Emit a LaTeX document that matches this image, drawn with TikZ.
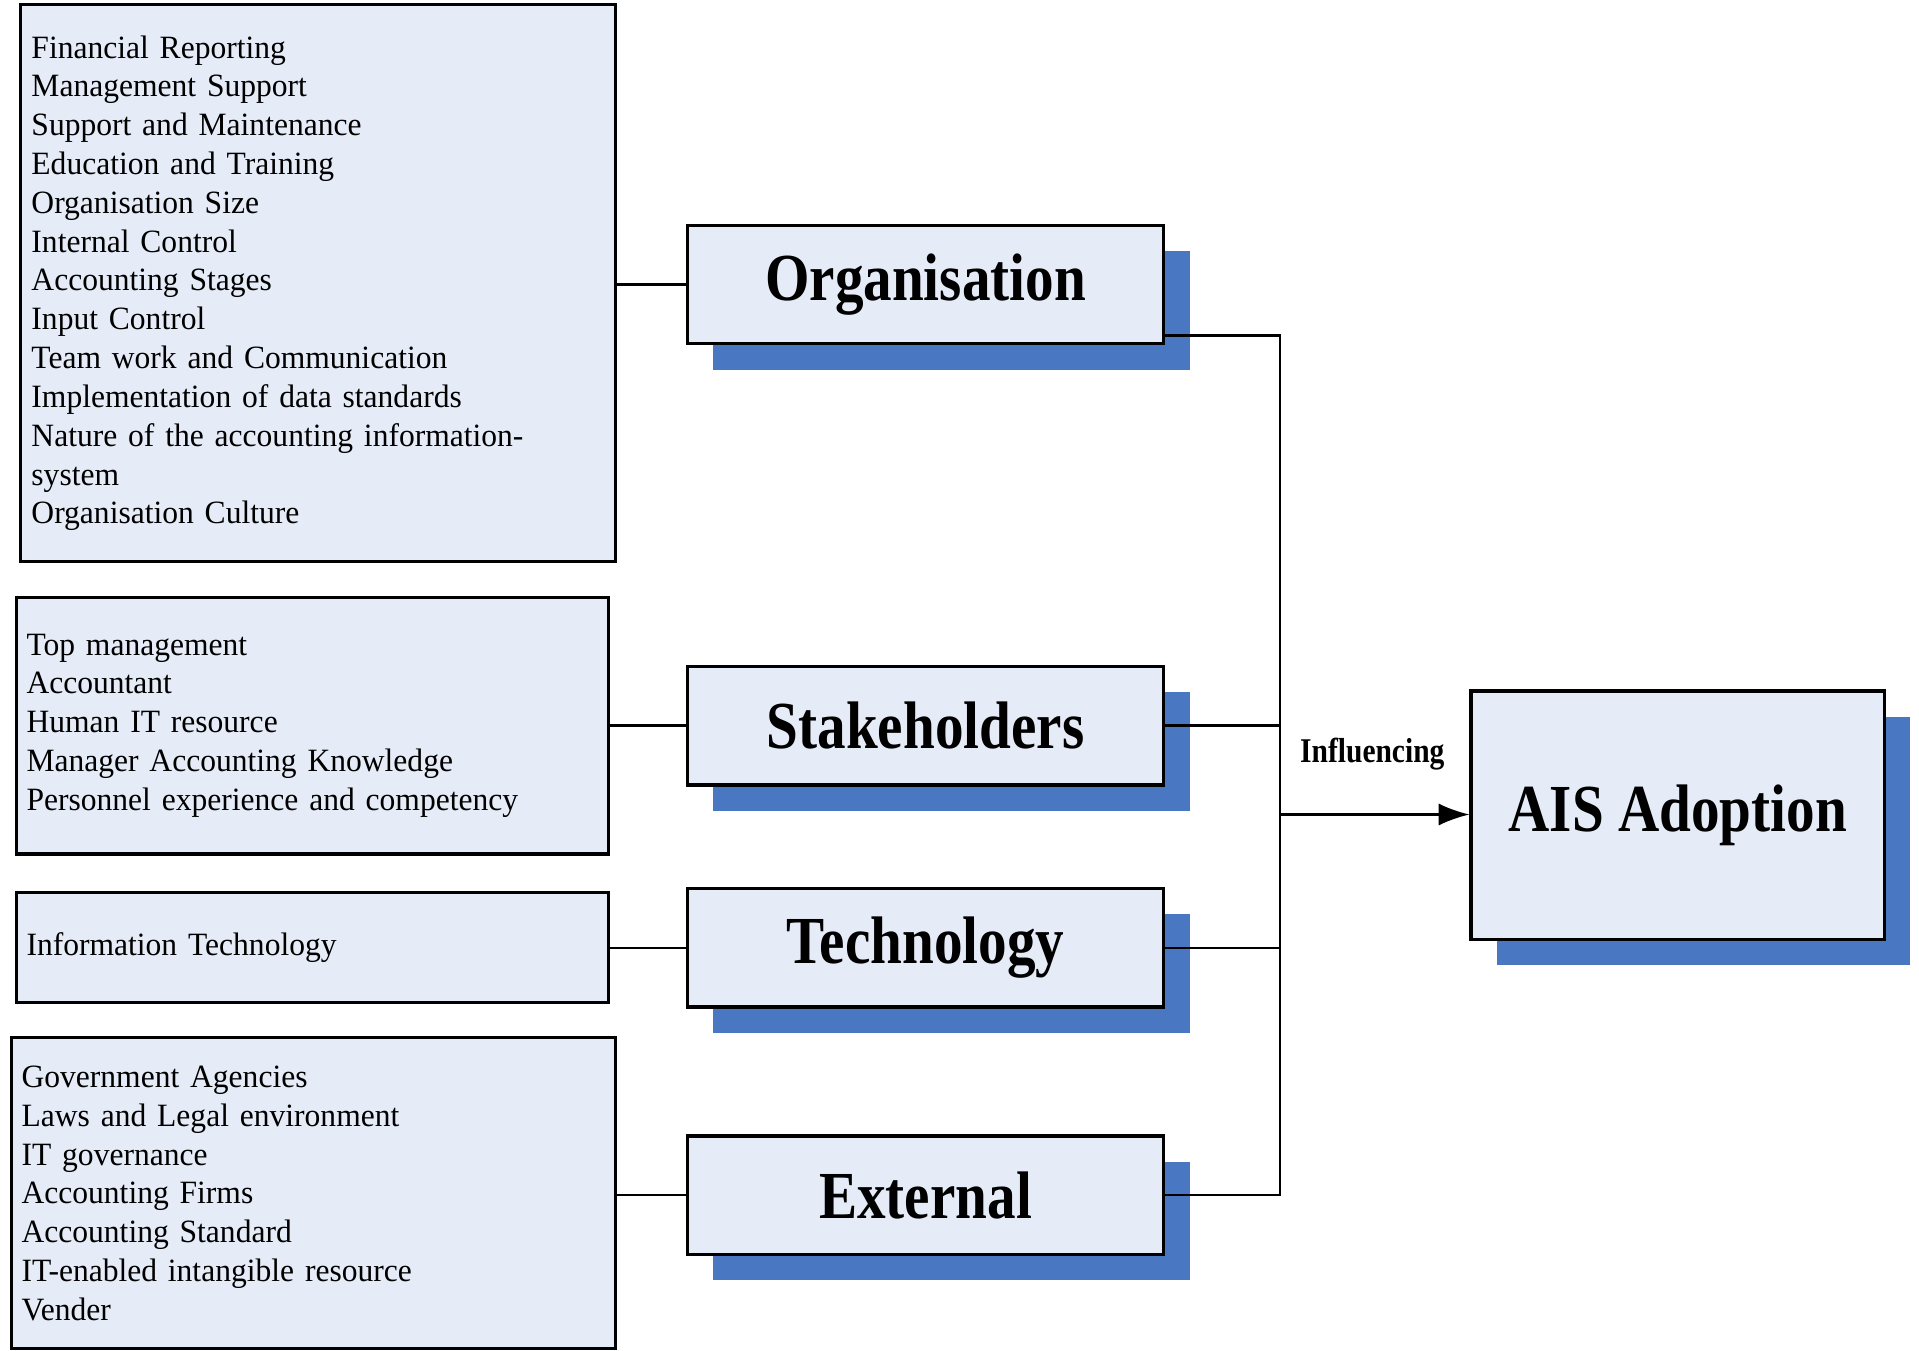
\documentclass[tikz,border=0pt]{standalone}
\usepackage{fontspec}
\setmainfont[WordSpace=0.7, FakeStretch=0.97]{Liberation Serif}
\newfontfamily\headfont[FakeStretch=0.85]{Liberation Serif}
\usepackage{xcolor}
\usetikzlibrary{positioning, shadows, arrows.meta}
\definecolor{boxfill}{HTML}{E6ECF7}
\definecolor{shadowblue}{HTML}{4A77C2}

\begin{document}
\begin{tikzpicture}[
  listbox/.style={draw, line width=1.4pt, fill=boxfill, align=left, inner xsep=0.17cm, font=\fontsize{15}{17.9}\selectfont},
  factor/.style={draw, line width=1.5pt, fill=boxfill, minimum width=7.72cm, minimum height=1.92cm, font=\headfont\bfseries\fontsize{31}{33}\selectfont, drop shadow={shadow xshift=0.42cm, shadow yshift=-0.42cm, fill=shadowblue, opacity=1}},
  link/.style={line width=1.1pt}
]
\useasboundingbox (0,0) rectangle (31.1,-21.88);

\node[listbox, text width=9.3cm, minimum height=9.02cm] (orglist) at (5.16,-4.59) {Financial Reporting\\ Management Support\\ Support and Maintenance\\ Education and Training\\ Organisation Size\\ Internal Control\\ Accounting Stages\\ Input Control\\ Team work and Communication\\ Implementation of data standards\\ Nature of the accounting information-\\ system\\ Organisation Culture};
\node[listbox, text width=9.26cm, minimum height=4.16cm] (stakelist) at (5.06,-11.76) {Top management\\ Accountant\\ Human IT resource\\ Manager Accounting Knowledge\\ Personnel experience and competency};
\node[listbox, text width=9.26cm, minimum height=1.78cm] (techlist) at (5.06,-15.35) {Information Technology};
\node[listbox, text width=9.46cm, minimum height=5.04cm] (extlist) at (5.08,-19.34) {Government Agencies\\ Laws and Legal environment\\ IT governance\\ Accounting Firms\\ Accounting Standard\\ IT-enabled intangible resource\\ Vender};

\node[factor] (org) at (15,-4.61) {Organisation};
\node[factor] (stake) at (15,-11.76) {Stakeholders};
\node[factor] (tech) at (15,-15.36) {Technology};
\node[factor] (ext) at (15,-19.37) {External};
\node[factor, minimum width=6.7cm, minimum height=4.02cm] (ais) at (27.19,-13.21) {AIS Adoption};

\draw[link] (orglist.east |- org.west) -- (org.west);
\draw[link] (stakelist.east |- stake.west) -- (stake.west);
\draw[link] (techlist.east |- tech.west) -- (tech.west);
\draw[link] (extlist.east |- ext.west) -- (ext.west);

\coordinate (bus) at (20.74,-13.2);
\draw[link] ([yshift=0.16cm]org.south east) -| (bus) |- (ext.east);
\draw[link] (stake.east) -- (stake.east -| bus);
\draw[link] (tech.east) -- (tech.east -| bus);
\draw[link, -{Latex[length=0.5cm, width=0.36cm]}] (bus) -- (bus -| ais.west);
\node[font=\headfont\bfseries\fontsize{16}{18}\selectfont] (infl) at (22.24,-12.22) {Influencing};
\end{tikzpicture}
\end{document}
